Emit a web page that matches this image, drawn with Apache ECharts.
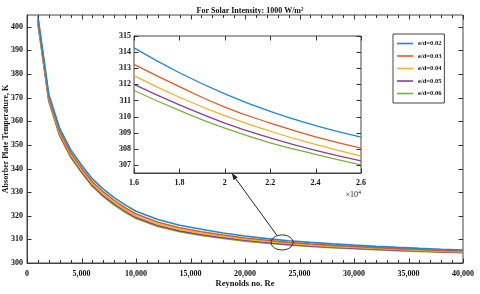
<!DOCTYPE html>
<html>
<head>
<meta charset="utf-8">
<script src="https://cdn.jsdelivr.net/npm/echarts@6/dist/echarts.min.js"></script>
<style>
html,body{margin:0;padding:0;background:#fff;}
#c{width:480px;height:294px;}
</style>
</head>
<body>
<div id="c"></div>
<script>
// ---- data ----
const reynolds = [1000,2000,3000,4000,5000,6000,7000,8000,9000,10000,12000,14000,16000,18000,20000,22000,24000,26000,28000,30000,32000,34000,36000,38000,40000];
const ed002 = [404.5,371.5,357.0,348.0,341.5,335.6,331.3,327.7,324.6,321.9,318.4,316.0,314.26,312.72,311.41,310.32,309.44,308.72,308.1,307.55,307.05,306.6,306.2,305.83,305.5];
const ed003 = [403.34,370.30,355.77,346.77,340.27,334.37,330.07,326.48,323.40,320.72,317.26,314.92,313.24,311.86,310.59,309.6,308.74,308.05,307.48,306.97,306.50,306.08,305.71,305.36,305.05];
const ed004 = [402.52,369.45,354.89,345.89,339.39,333.49,329.19,325.62,322.55,319.89,316.45,314.15,312.54,311.2,310.06,309.09,308.27,307.55,307.04,306.56,306.11,305.71,305.36,305.03,304.73];
const ed005 = [401.94,368.85,354.26,345.26,338.76,332.86,328.56,325.01,321.95,319.29,315.88,313.61,312.0,310.73,309.6,308.68,307.9,307.25,306.73,306.27,305.84,305.45,305.11,304.79,304.5];
const ed006 = [401.5,368.4,353.8,344.8,338.3,332.4,328.1,324.55,321.5,318.85,315.45,313.2,311.62,310.38,309.28,308.37,307.66,307.0,306.5,306.05,305.63,305.25,304.92,304.61,304.33];
const seriesNames = ['e/d=0.02','e/d=0.03','e/d=0.04','e/d=0.05','e/d=0.06'];
const mainYTicks = [300,310,320,330,340,350,360,370,380,390,400];
const mainXTicks = [0,5000,10000,15000,20000,25000,30000,35000,40000];
const insetXTicks = [16000,18000,20000,22000,24000,26000];
const insetYTicks = [307,308,309,310,311,312,313,314,315];
const mainXRange = [0,40000], mainYRange = [300,405];
const insetRange = [16000,26000], insetYRange = [306.5,315];
const zoomSpot = [23400,308.7];     // encircled region in main plot
const arrowTarget = [20300,306.5];  // arrow head on inset
// -----------------------------------------

const colors = ['#1f88d2','#de5a24','#efb22a','#8a3d9c','#79b23a'];
const FF = 'Liberation Serif';
const allSeries = [ed002,ed003,ed004,ed005,ed006];
const axisCol = '#444';
const tickCol = '#333';

function zip(xs, ys){ return xs.map((x,i)=>[x,ys[i]]); }
function insetData(ys){ return zip(reynolds, ys).filter(p=>p[0]>=insetRange[0] && p[0]<=insetRange[1]); }

const lbl = {fontFamily:FF,fontWeight:'bold',fontSize:8,color:'#111'};

const series = [];
allSeries.forEach((ys,i)=>{
  series.push({name:seriesNames[i],type:'line',xAxisIndex:0,yAxisIndex:0,data:zip(reynolds,ys),
    showSymbol:false,symbol:'none',smooth:false,lineStyle:{width:1.6,color:colors[i]},itemStyle:{color:colors[i]},z:6-i*0.1});
});
allSeries.forEach((ys,i)=>{
  series.push({name:seriesNames[i],type:'line',xAxisIndex:1,yAxisIndex:1,data:insetData(ys),
    showSymbol:false,symbol:'none',smooth:true,lineStyle:{width:1.3,color:colors[i]},itemStyle:{color:colors[i]},z:10});
});

function axLine(){ return {show:true,onZero:false,lineStyle:{color:axisCol,width:1}}; }
const noTick = {show:false};

const chart = echarts.init(document.getElementById('c'),null,{renderer:'canvas'});
const option = {
  animation:false,
  backgroundColor:'#fff',
  title:{text:'For Solar Intensity: 1000 W/m²',left:245,textAlign:'center',top:2,
    textStyle:{fontFamily:FF,fontWeight:'bold',fontSize:8,color:'#111'}},
  legend:{data:seriesNames,orient:'vertical',left:393,top:34,padding:[5,3,5,4],itemGap:3.5,
    icon:'rect',itemWidth:16,itemHeight:1.6,backgroundColor:'#fff',borderColor:'#444',borderWidth:1,z:20,
    textStyle:{fontFamily:FF,fontWeight:'bold',fontSize:6.5,color:'#111',lineHeight:9}},
  grid:[
    {left:27,right:17,top:15,bottom:31,show:true,borderColor:axisCol,borderWidth:1,containLabel:false,outerBoundsMode:'none'},
    {left:134,right:119,top:36,bottom:121,show:true,backgroundColor:'#fff',borderColor:axisCol,borderWidth:1,z:8,containLabel:false,outerBoundsMode:'none'}
  ],
  xAxis:[
    {type:'value',gridIndex:0,min:mainXRange[0],max:mainXRange[1],interval:5000,position:'bottom',
      name:'Reynolds no. Re',nameLocation:'middle',nameGap:16,nameMoveOverlap:false,
      nameTextStyle:{fontFamily:FF,fontWeight:'bold',fontSize:8.5,color:'#111'},
      axisLine:axLine(),axisTick:noTick,splitLine:{show:false},
      axisLabel:Object.assign({margin:7,formatter:v=>mainXTicks.includes(v)?v.toLocaleString('en-US'):''},lbl)},
    {type:'value',gridIndex:1,min:insetRange[0],max:insetRange[1],interval:2000,position:'bottom',
      axisLine:axLine(),axisTick:noTick,splitLine:{show:false},
      axisLabel:Object.assign({margin:6,formatter:v=>insetXTicks.includes(v)?String(+(v/10000).toFixed(1)):''},lbl)}
  ],
  yAxis:[
    {type:'value',gridIndex:0,min:mainYRange[0],max:mainYRange[1],interval:10,position:'left',
      name:'Absorber Plate Temperature, K',nameLocation:'middle',nameGap:17,nameMoveOverlap:false,
      nameTextStyle:{fontFamily:FF,fontWeight:'bold',fontSize:8,color:'#111'},
      axisLine:axLine(),axisTick:noTick,splitLine:{show:false},
      axisLabel:Object.assign({margin:4,showMaxLabel:false,formatter:v=>mainYTicks.includes(v)?String(v):''},lbl)},
    {type:'value',gridIndex:1,min:insetYRange[0],max:insetYRange[1],splitNumber:8,position:'left',
      axisLine:axLine(),axisTick:noTick,splitLine:{show:false},
      axisLabel:Object.assign({margin:3,formatter:v=>insetYTicks.includes(v)?String(v):''},lbl)}
  ],
  series:series
};
chart.setOption(option);

// ---- frame ticks (inside, on all four sides), from tick arrays ----
const g = [];
const px = (ax, v) => chart.convertToPixel(ax, v);
function r(v){ return Math.round(v)+0.5; }
function tickLine(x1,y1,x2,y2,z){ g.push({type:'line',shape:{x1:x1,y1:y1,x2:x2,y2:y2},style:{stroke:tickCol,lineWidth:1},z:z,silent:true}); }
function boxTicks(xi, yi, xr, yr, xTicks, yTicks, xMinor, z){
  const bl = px({xAxisIndex:xi,yAxisIndex:yi},[xr[0],yr[0]]);
  const tr = px({xAxisIndex:xi,yAxisIndex:yi},[xr[1],yr[1]]);
  const L=bl[0], B=bl[1], R=tr[0], T=tr[1];
  xTicks.forEach(v=>{const x=r(px({xAxisIndex:xi},v)); tickLine(x,B,x,B-4.5,z); tickLine(x,T,x,T+4.5,z);});
  xMinor.forEach(v=>{const x=r(px({xAxisIndex:xi},v)); tickLine(x,B,x,B-3,z); tickLine(x,T,x,T+3,z);});
  yTicks.forEach(v=>{const y=r(px({yAxisIndex:yi},v)); tickLine(L,y,L+4.5,y,z); tickLine(R,y,R-4.5,y,z);});
}
const mainMinor = [];
for(let v=mainXRange[0]; v<=mainXRange[1]; v+=1000){ if(!mainXTicks.includes(v)) mainMinor.push(v); }
boxTicks(0,0,mainXRange,mainYRange,mainXTicks,mainYTicks,mainMinor,25);
boxTicks(1,1,insetRange,insetYRange,insetXTicks,insetYTicks,[],30);

// annotations: ellipse around zoom spot, arrow to inset, x10^4 multiplier
const c = px({xAxisIndex:0,yAxisIndex:0}, zoomSpot);
const t = px({xAxisIndex:1,yAxisIndex:1}, arrowTarget);
const insetRight = px({xAxisIndex:1,yAxisIndex:1}, [insetRange[1],insetYRange[0]]);
const rx = 11, ry = 7.5;
const pts = [];
for(let k=0;k<=48;k++){const a=k/48*Math.PI*2; pts.push([c[0]+rx*Math.cos(a), c[1]+ry*Math.sin(a)]);}
const dx = t[0]-c[0], dy = t[1]-c[1];
const s = 1/Math.sqrt((dx/rx)*(dx/rx)+(dy/ry)*(dy/ry));
const start = [c[0]+dx*s, c[1]+dy*s];
const len = Math.sqrt(dx*dx+dy*dy), ux = dx/len, uy = dy/len;
const hl = 7, hw = 2.6;
const base = [t[0]-ux*hl, t[1]-uy*hl];
const head = [[t[0],t[1]],[base[0]-uy*hw, base[1]+ux*hw],[base[0]+uy*hw, base[1]-ux*hw]];

g.push(
  {type:'polyline',shape:{points:pts},style:{stroke:'#222',lineWidth:1,fill:null},z:30},
  {type:'line',shape:{x1:start[0],y1:start[1],x2:base[0],y2:base[1]},style:{stroke:'#222',lineWidth:1},z:30},
  {type:'polygon',shape:{points:head},style:{fill:'#222'},z:30},
  {type:'text',x:insetRight[0],y:insetRight[1]+22,
    style:{text:'{a|×10}{b|4}',align:'right',verticalAlign:'middle',
      rich:{a:{fontFamily:FF,fontSize:8,fill:'#222'},b:{fontFamily:FF,fontSize:6,fill:'#222',verticalAlign:'top',padding:[0,0,5,0]}}},z:30}
);
chart.setOption({graphic:g});
</script>
</body>
</html>
